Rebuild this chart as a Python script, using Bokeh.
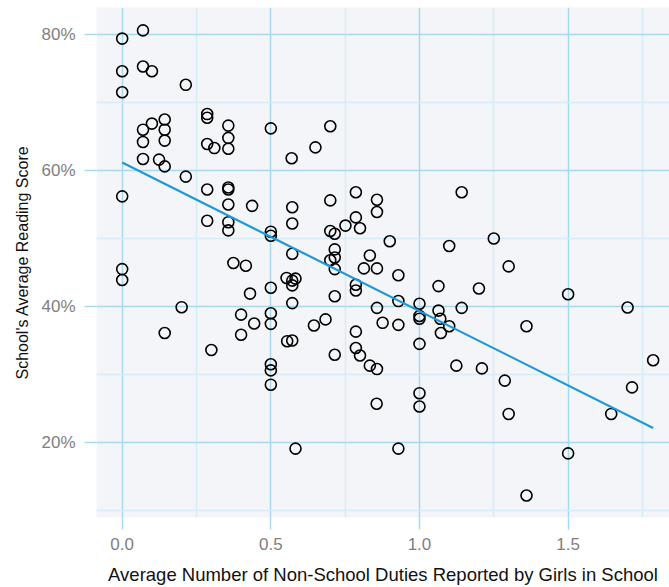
import numpy as np
from bokeh.plotting import figure
from bokeh.models import FixedTicker, PrintfTickFormatter, Range1d
from bokeh.embed import file_html
from bokeh.resources import INLINE

# Average number of non-school duties reported by girls (x) and school's average reading score in % (y)
duties = [
    0.0, 0.07, 0.0, 0.07, 0.1, 0.214, 0.0, 0.286, 0.286, 0.143,
    0.1, 0.07, 0.143, 0.357, 0.5, 0.07, 0.143, 0.357, 0.286, 0.31,
    0.357, 0.07, 0.124, 0.143, 0.214, 0.57, 0.65, 0.70, 0.0, 0.286,
    0.357, 0.357, 0.357, 0.437, 0.286, 0.357, 0.357, 0.5, 0.5, 0.572,
    0.572, 0.572, 0.0, 0.0, 0.374, 0.416, 0.553, 0.572, 0.583, 0.572,
    0.5, 0.43, 0.572, 0.2, 0.4, 0.5, 0.5, 0.444, 0.143, 0.4,
    0.30, 0.555, 0.572, 0.70, 0.786, 0.857, 0.857, 1.142, 0.786, 0.70,
    0.715, 0.751, 0.80, 0.90, 1.10, 0.715, 0.715, 0.70, 0.715, 0.833,
    0.813, 0.857, 0.929, 0.786, 0.786, 1.064, 1.20, 0.715, 0.929, 1.0,
    0.857, 1.064, 1.142, 1.0, 1.0, 1.07, 0.684, 0.645, 0.876, 0.929,
    1.10, 1.072, 0.786, 1.0, 0.715, 0.786, 0.80, 1.25, 1.30, 1.50,
    1.70, 1.36, 0.5, 0.5, 0.5, 0.583, 0.833, 0.857, 1.124, 1.21,
    0.856, 1.0, 1.0, 0.929, 1.287, 1.30, 1.645, 1.715, 1.786, 1.50,
    1.36,
]
reading = [
    79.4, 80.6, 74.6, 75.3, 74.6, 72.6, 71.5, 68.3, 67.75, 67.5,
    66.9, 66.0, 66.0, 66.6, 66.2, 64.2, 64.4, 64.8, 63.9, 63.3,
    63.2, 61.7, 61.6, 60.6, 59.1, 61.8, 63.4, 66.5, 56.2, 57.2,
    57.5, 57.2, 55.0, 54.8, 52.6, 52.4, 51.2, 51.0, 50.4, 54.6,
    52.2, 47.75, 45.5, 43.9, 46.4, 46.0, 44.2, 43.8, 44.1, 43.1,
    42.75, 41.9, 40.5, 39.9, 38.8, 39.0, 37.45, 37.5, 36.1, 35.85,
    33.6, 34.9, 35.0, 55.6, 56.8, 55.7, 53.9, 56.8, 53.1, 51.1,
    50.7, 51.9, 51.5, 49.6, 48.9, 48.4, 47.2, 46.8, 45.5, 47.5,
    45.6, 45.6, 44.6, 43.2, 42.35, 43.0, 42.65, 41.5, 40.8, 40.4,
    39.8, 39.4, 39.8, 38.6, 38.2, 38.2, 38.1, 37.2, 37.6, 37.3,
    37.1, 36.1, 36.3, 34.5, 32.9, 33.9, 32.8, 50.0, 45.9, 41.8,
    39.85, 37.1, 31.5, 30.6, 28.5, 19.1, 31.3, 30.8, 31.3, 30.9,
    25.7, 27.25, 25.3, 19.1, 29.1, 24.2, 24.2, 28.1, 32.1, 18.4,
    12.2,
]

x_major_ticks = [0.0, 0.5, 1.0, 1.5]
x_minor_ticks = [0.25, 0.75, 1.25, 1.75]
y_major_ticks = [20, 40, 60, 80]
y_minor_ticks = [10, 30, 50, 70]

FONT = "Liberation Sans"
GRID_MAJOR = "#a6d9ee"
GRID_MINOR = "#d6ecf6"

p = figure(
    width=669, height=587,
    x_range=Range1d(-0.0864, 1.841), y_range=Range1d(8.97, 83.97),
    output_backend="svg", toolbar_location=None,
    min_border_left=96, min_border_right=0, min_border_top=7, min_border_bottom=70,
)
p.background_fill_color = "#f3f5f8"
p.border_fill_color = "white"
p.outline_line_color = None

p.xaxis.ticker = FixedTicker(ticks=x_major_ticks, minor_ticks=x_minor_ticks)
p.yaxis.ticker = FixedTicker(ticks=y_major_ticks, minor_ticks=y_minor_ticks)
p.xaxis.formatter = PrintfTickFormatter(format="%.1f")
p.yaxis.formatter = PrintfTickFormatter(format="%d%%")

for ax in (p.xaxis[0], p.yaxis[0]):
    ax.axis_line_color = None
    ax.major_tick_line_color = GRID_MAJOR
    ax.major_tick_line_width = 1.5
    ax.major_tick_out = 12
    ax.major_tick_in = 0
    ax.minor_tick_line_color = None
    ax.major_label_text_font = FONT
    ax.major_label_text_font_size = "17px"
    ax.major_label_text_color = "#808080"
    ax.axis_label_text_font = FONT
    ax.axis_label_text_font_style = "normal"
    ax.axis_label_text_color = "#111111"

p.xaxis.axis_label = "Average Number of Non-School Duties Reported by Girls in School"
p.yaxis.axis_label = "School's Average Reading Score"
p.xaxis.axis_label_text_font_size = "18.5px"
p.yaxis.axis_label_text_font_size = "16px"
p.xaxis.major_label_standoff = 8
p.yaxis.major_label_standoff = 9
p.xaxis.axis_label_standoff = 11
p.yaxis.axis_label_standoff = 7

p.xgrid.grid_line_color = GRID_MAJOR
p.ygrid.grid_line_color = GRID_MAJOR
p.xgrid.grid_line_width = 1.5
p.ygrid.grid_line_width = 1.5
p.xgrid.minor_grid_line_color = GRID_MINOR
p.ygrid.minor_grid_line_color = GRID_MINOR
p.xgrid.minor_grid_line_width = 1.5
p.ygrid.minor_grid_line_width = 1.5

# linear fit through the data
xs = np.array(duties)
ys = np.array(reading)
slope, intercept = np.polyfit(xs, ys, 1)
fit_x = np.array([xs.min(), xs.max()])
fit_y = intercept + slope * fit_x

p.scatter(duties, reading, size=11, marker="circle", fill_alpha=0,
          line_color="black", line_width=1.6)
p.line(fit_x, fit_y, line_color="#1c9ad6", line_width=2.2)

open("out.html", "w").write(file_html(p, INLINE))
